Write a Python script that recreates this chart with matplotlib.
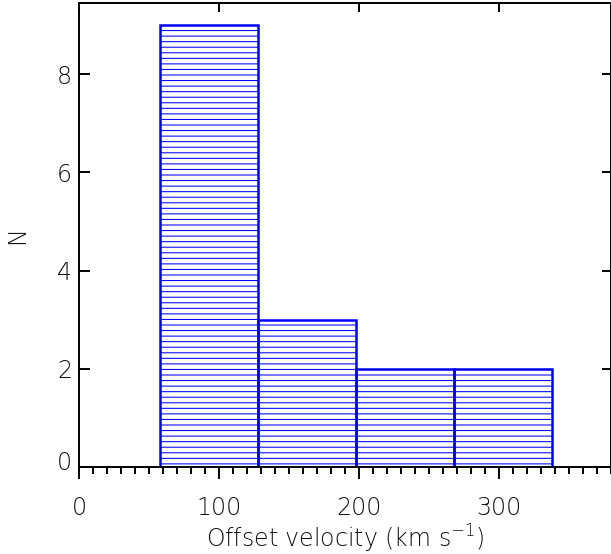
import matplotlib
matplotlib.use("Agg")
import matplotlib.pyplot as plt
import matplotlib.transforms as mtransforms
import numpy as np

# Data
bin_edges = [57.5, 127.5, 197.5, 267.5, 338.0]
counts = [9, 3, 2, 2]
x_major = [0, 100, 200, 300]
y_major = [0, 2, 4, 6, 8]
x_label = "Offset velocity (km s$^{-1}$)"
y_label = "N"

plt.rcParams['hatch.linewidth'] = 0.75
plt.rcParams['font.family'] = ['DejaVu Sans', 'Noto Sans']
plt.rcParams['font.weight'] = 'light'
plt.rcParams['axes.labelweight'] = 'light'
plt.rcParams['mathtext.fontset'] = 'custom'
plt.rcParams['mathtext.rm'] = 'DejaVu Sans:light'
plt.rcParams['mathtext.it'] = 'DejaVu Sans:light'
plt.rcParams['mathtext.default'] = 'rm'

W, H = 611, 554
fig = plt.figure(figsize=(W / 100, H / 100), dpi=100)
ax = fig.add_axes([79 / W, (H - 467) / H, (611 - 79) / W, (467 - 3) / H])

lefts = np.array(bin_edges[:-1])
widths = np.diff(bin_edges)
ax.bar(lefts, counts, width=widths, align='edge', fill=False,
       edgecolor='#0000ff', linewidth=1.8, hatch='---')

ax.set_xlim(0, 380)
ax.set_ylim(0, 9.45)

txtcol = '#111111'
fs = 17
ax.set_xticks(x_major)
ax.set_xticks(np.arange(0, 381, 10), minor=True)
ax.set_yticks(y_major)
ax.tick_params(axis='x', which='major', direction='out', length=8.6, width=1.4,
               pad=12, labelsize=fs, labelcolor=txtcol, top=False)
ax.tick_params(axis='x', which='minor', direction='out', length=5, width=1.4, top=False)
ax.tick_params(axis='y', which='major', direction='in', length=8, width=1.4,
               pad=5, labelsize=fs, labelcolor=txtcol, right=False)

for lab in ax.get_yticklabels():
    if lab.get_text() == '0':
        lab.set_transform(lab.get_transform() +
                          mtransforms.ScaledTranslation(0, 6 / 100, fig.dpi_scale_trans))

for s in ax.spines.values():
    s.set_linewidth(1.4)
    s.set_color('black')

top = ax.secondary_xaxis('top')
top.set_xticks(x_major)
top.tick_params(direction='in', length=6.5, width=1.4, labeltop=False)
top.spines['top'].set_linewidth(1.4)

right = ax.secondary_yaxis('right')
right.set_yticks(y_major)
right.tick_params(direction='in', length=6.5, width=1.4, labelright=False)
right.spines['right'].set_linewidth(1.4)

ax.set_xlabel(x_label, fontsize=fs, color=txtcol, labelpad=2, fontweight='light')
ax.set_ylabel(y_label, fontsize=fs, color=txtcol, labelpad=20, fontweight='light')

fig.savefig('out.png', dpi=100)
